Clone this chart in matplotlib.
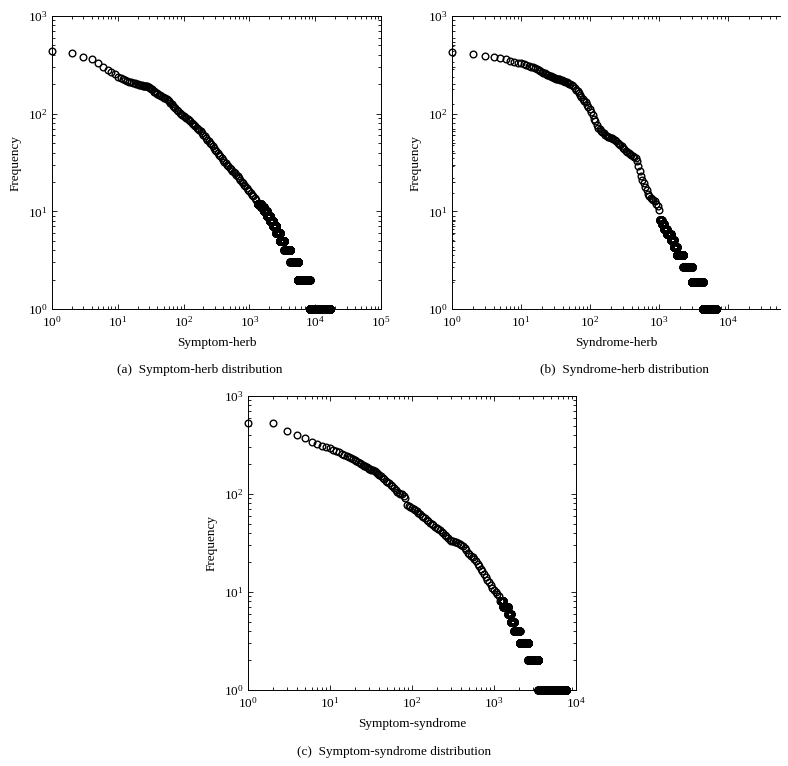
import numpy as np
import matplotlib
matplotlib.use('Agg')
import matplotlib.pyplot as plt
from matplotlib.ticker import LogLocator, NullFormatter

plt.rcParams['font.family'] = ['Liberation Serif', 'DejaVu Serif']
FS = 9.5

read_ranks = [31, 32, 33, 35, 36, 37, 39, 40, 42, 44,
              46, 48, 50, 52, 55, 57, 60, 63, 66, 69,
              72, 75, 79, 83, 87, 91, 95, 100, 105, 110,
              115, 120, 126, 132, 138, 145, 151, 158, 166, 174,
              182, 191, 200, 209, 219, 229, 240, 251, 263, 275,
              288, 302, 316, 331, 347, 363, 380, 398, 417, 437,
              457, 479, 501, 525, 550, 575, 603, 631, 661, 692,
              724, 759, 794, 832, 871, 912, 955, 1000, 1047, 1096,
              1148, 1202, 1259]

# (a) symptom-herb: frequency for ranks 1..30, then at read_ranks
a_top = [437, 422, 376, 364, 327, 302, 280, 265, 252, 238,
         230, 225, 220, 216, 212, 209, 206, 204, 202, 200,
         198, 197, 195, 194, 193, 192, 191, 190, 188, 186]
a_read = [183, 180, 177, 172, 168, 166, 162, 160, 157, 154,
          151, 148, 146, 144, 140, 138, 135, 130, 125, 121,
          118, 115, 110, 106, 102, 99, 97, 95, 92, 90,
          88, 86, 83.5, 81, 78.5, 76, 74, 72, 70, 68,
          66, 63, 61, 58.5, 56, 54, 52.5, 50.5, 48.5, 46.5,
          44.5, 42.5, 41, 39.5, 38, 36.5, 35, 33.5, 32.3, 31.2,
          30, 29, 28, 27, 26, 25.3, 24.5, 23.7, 22.8, 22,
          21, 20, 19.3, 18.6, 18, 17.3, 16.6, 16, 15.4, 14.8,
          14.2, 13.6, 13.1]
# tail plateaus: frequency level and the rank range that has it
a_lvl = [12, 11, 10, 9, 8, 7, 6, 5, 4, 3, 2, 1]
a_lo = [1330, 1500, 1650, 1840, 2050, 2290, 2550, 2900, 3400, 4200, 5500, 8200]
a_hi = [1500, 1650, 1840, 2050, 2290, 2550, 2900, 3400, 4200, 5500, 8200, 17000]

# (b) syndrome-herb (values on the panel's own data scale)
b_top = [766, 727, 702, 673, 656, 640, 617, 601, 588, 576,
         564, 552, 541, 530, 518, 505, 494, 483, 472, 462,
         453, 445, 437, 429, 422, 416, 411, 406, 400, 395]
b_read = [391, 388, 386, 383, 381, 378, 372, 369, 363, 358,
          352, 346, 341, 336, 330, 322, 303, 292, 279, 266,
          254, 242, 231, 220, 210, 197, 188, 178, 163, 150,
          138, 128, 116, 109, 104, 100, 97, 94, 90, 88,
          86.5, 85.5, 84.5, 83, 81, 79.5, 77.5, 74, 72, 70,
          67, 64.5, 62, 59.5, 58, 56, 54.5, 53.5, 52.5, 51,
          49.5, 46, 40, 35.5, 31.5, 28.5, 26, 23.5, 21.5, 19.5,
          18.5, 17.7, 17.2, 16.8, 16.2, 15.3, 14.2, 13]
b_lvl = [10, 9, 8, 7, 6, 5, 4, 3, 2, 1]
b_lo = [1030, 1090, 1180, 1290, 1480, 1640, 1810, 2260, 2990, 4300]
b_hi = [1090, 1180, 1290, 1480, 1640, 1810, 2260, 2990, 4300, 6650]

# (c) symptom-syndrome
c_top = [530, 525, 443, 400, 373, 342, 324, 311, 302, 293,
         283, 274, 266, 258, 251, 244, 238, 232, 226, 220,
         215, 210, 206, 202, 198, 194, 191, 188, 185, 182]
c_read = [179, 177, 174, 170, 167, 164, 159, 156, 151, 146,
          141, 137, 133, 129, 124, 120, 114, 109, 106, 103,
          101, 99, 96, 90, 78, 76, 74, 72.5, 71, 69,
          67, 64.5, 62, 60, 58.5, 56.5, 54.5, 52.5, 51, 49.5,
          48.3, 46.5, 45, 44, 42.5, 41, 39.8, 38.5, 37, 35.5,
          34, 33.3, 32.8, 32.4, 32, 31.5, 31, 30.3, 29.3, 28,
          26.8, 25.2, 24.3, 23.5, 22.5, 21.5, 20.6, 19.5, 18.3, 17.2,
          16.3, 15.3, 14.3, 13.3, 12.7, 11.8, 11.1, 10.6, 10.1, 9.6,
          9.1]
c_lvl = [8, 7, 6, 5, 4, 3, 2, 1]
c_lo = [1200, 1300, 1480, 1600, 1760, 2050, 2620, 3480]
c_hi = [1300, 1480, 1600, 1760, 2050, 2620, 3480, 7500]

xlabels = ['Symptom-herb', 'Syndrome-herb', 'Symptom-syndrome']
captions = ['(a)  Symptom-herb distribution', '(b)  Syndrome-herb distribution',
            '(c)  Symptom-syndrome distribution']


def all_points(top, read, lvl, lo, hi):
    xs = [np.arange(1, len(top) + 1), np.asarray(read_ranks[:len(read)])]
    ys = [np.asarray(top, float), np.asarray(read, float)]
    for f, s, e in zip(lvl, lo, hi):
        r = np.arange(s, e + 1)
        xs.append(r)
        ys.append(np.full(r.size, f))
    return np.concatenate(xs), np.concatenate(ys)


def log_ticks(axis):
    axis.set_major_locator(LogLocator(base=10, numticks=20))
    axis.set_minor_locator(LogLocator(base=10, subs=np.arange(2, 10), numticks=20))
    axis.set_minor_formatter(NullFormatter())


def style_axis(ax):
    ax.set_xscale('log')
    ax.set_yscale('log')
    log_ticks(ax.xaxis)
    log_ticks(ax.yaxis)
    ax.tick_params(which='both', direction='in', top=True, right=True,
                   labelsize=FS, width=0.6)
    ax.tick_params(axis='x', pad=4.5)
    ax.tick_params(axis='y', pad=3)
    ax.tick_params(which='major', length=3.5)
    ax.tick_params(which='minor', length=2)
    for s in ax.spines.values():
        s.set_linewidth(0.7)


def scatter(ax, x, y):
    ax.plot(x, y, linestyle='none', marker='o', ms=4.8, mfc='none', mec='black',
            mew=1.0, clip_on=False)


fig = plt.figure(figsize=(7.88, 7.66), dpi=100)
W, H = 788.0, 766.0

# (a)
axa = fig.add_axes([52 / W, 1 - 309 / H, 329 / W, 293 / H])
style_axis(axa)
x, y = all_points(a_top, a_read, a_lvl, a_lo, a_hi)
scatter(axa, x, y)
axa.set_xlim(1, 1e5)
axa.set_ylim(1, 1e3)
axa.set_xlabel(xlabels[0], fontsize=FS, labelpad=5)
axa.set_ylabel('Frequency', fontsize=FS, labelpad=5)

# (b): data drawn on its own y scale, labelled axis laid over it
axb = fig.add_axes([452 / W, 1 - 309 / H, 328 / W, 293 / H])
style_axis(axb)
x, y = all_points(b_top, b_read, b_lvl, b_lo, b_hi)
scatter(axb, x, y)
axb.set_xlim(1, 10 ** 4.754)
axb.set_ylim(1, 10 ** 3.292)
axb.tick_params(axis='y', which='both', left=False, labelleft=False)
axb.tick_params(axis='y', which='major', length=2.5)
axb.tick_params(axis='y', which='minor', length=1.5)
axb.spines['right'].set_visible(False)
axb.set_xlabel(xlabels[1], fontsize=FS, labelpad=5)

axl = axb.twinx()
axl.set_yscale('log')
axl.set_ylim(1, 1e3)
log_ticks(axl.yaxis)
axl.yaxis.tick_left()
axl.yaxis.set_label_position('left')
axl.tick_params(which='both', direction='in', labelsize=FS, pad=3, width=0.6,
                right=False, labelright=False)
axl.tick_params(which='major', length=3.5)
axl.tick_params(which='minor', length=2)
for s in axl.spines.values():
    s.set_visible(False)
axl.set_ylabel('Frequency', fontsize=FS, labelpad=5)

# (c)
axc = fig.add_axes([248 / W, 1 - 690 / H, 328 / W, 294 / H])
style_axis(axc)
x, y = all_points(c_top, c_read, c_lvl, c_lo, c_hi)
scatter(axc, x, y)
axc.set_xlim(1, 1e4)
axc.set_ylim(1, 1e3)
axc.set_xlabel(xlabels[2], fontsize=FS, labelpad=5)
axc.set_ylabel('Frequency', fontsize=FS, labelpad=5)

fig.text(200 / W, 1 - 370 / H, captions[0], ha='center', va='center', fontsize=FS)
fig.text(624 / W, 1 - 370 / H, captions[1], ha='center', va='center', fontsize=FS)
fig.text(394 / W, 1 - 752 / H, captions[2], ha='center', va='center', fontsize=FS)

fig.savefig('out.png', dpi=100)
